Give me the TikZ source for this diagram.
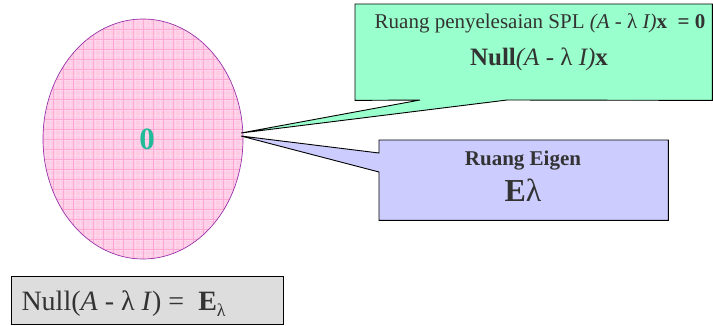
\documentclass[tikz,border=0pt]{standalone}
\usepackage{fontspec}
\setmainfont{Liberation Serif}
\usetikzlibrary{calc,shapes.geometric}
\definecolor{gfill}{HTML}{99FFCC}
\definecolor{bfill}{HTML}{CCCCFF}
\definecolor{pfill}{HTML}{FFCCE6}
\definecolor{pgrid}{HTML}{FF99CC}
\definecolor{pedge}{HTML}{9933AA}
\definecolor{zero}{HTML}{22BB99}
\definecolor{txt}{HTML}{333333}
\definecolor{gfillb}{HTML}{DDDDDD}
\tikzset{
  boxshape/.style={draw=none,fill=none,inner sep=0pt,minimum width=#1},
  callout/.style={draw=black,line width=0.9pt,line join=miter},
}
\begin{document}
\begin{tikzpicture}[x=1pt,y=-1pt]
\useasboundingbox (0,0) rectangle (713,325);
% ellipse
\begin{scope}
\clip (143,139) ellipse [x radius=100, y radius=120];
\fill[pfill] (40,15) rectangle (250,265);
\foreach \i in {0,...,42} {
  \draw[pgrid!40,line width=0.3pt] (40+5*\i,15) -- (40+5*\i,265);
}
\foreach \j in {0,...,50} {
  \draw[pgrid!40,line width=0.3pt] (40,15+5*\j) -- (250,15+5*\j);
}
\foreach \i in {0,...,21} {
  \draw[pgrid!85,line width=0.5pt] (43+10*\i,15) -- (43+10*\i,265);
}
\foreach \j in {0,...,25} {
  \draw[pgrid!85,line width=0.5pt] (40,19+10*\j) -- (250,19+10*\j);
}
\end{scope}
\node[draw=pedge,line width=0.7pt,ellipse,minimum width=200pt,minimum height=240pt,inner sep=0pt] (ell) at (143,139) {};
\node[text=zero,font=\bfseries\fontsize{31}{34}\selectfont] (zero) at (147,139) {0};
% green callout
\coordinate (gtip) at (241,133);
\node[boxshape=357pt,minimum height=96pt,anchor=north west] (gbox) at (355,4) {};
\fill[gfill] (gbox.north west) -- (gbox.north east) -- (gbox.south east) -- (507,100) -- (gtip) -- (420,100) -- (gbox.south west) -- cycle;
\draw[callout] (gbox.north west) -- (gbox.north east) -- (gbox.south east) -- (507,100) -- (gtip) -- (420,100) -- (gbox.south west) -- cycle;
\node[text=txt,font=\fontsize{21}{24}\selectfont,anchor=base] (gl1) at (540,28) {Ruang penyelesaian SPL \textit{(A - }λ\textit{ I)}\textbf{x}\ \ \textbf{= 0}};
\node[text=txt,font=\fontsize{25}{28}\selectfont,anchor=base] (gl2) at (539,65) {\textbf{Null}\textit{(A }- λ\textit{ I)}\textbf{x}};
% blue callout
\coordinate (btip) at (241,136);
\node[boxshape=289pt,minimum height=80pt,anchor=north west] (bbox) at (379,140) {};
\fill[bfill] (bbox.north west) -- (bbox.north east) -- (bbox.south east) -- (bbox.south west) -- (379,172) -- (btip) -- (379,153) -- cycle;
\draw[callout] (bbox.north west) -- (bbox.north east) -- (bbox.south east) -- (bbox.south west) -- (379,172) -- (btip) -- (379,153) -- cycle;
\node[text=txt,font=\bfseries\fontsize{21}{24}\selectfont,anchor=base] (bl1) at (523,165) {Ruang Eigen};
\node[text=txt,font=\fontsize{32}{36}\selectfont,anchor=base] (bl2) at (523,201) {\textbf{E}λ};
% bottom box
\node[draw=black,line width=0.9pt,fill=gfillb,minimum width=272pt,minimum height=48pt,anchor=north west,inner sep=0pt] (nbox) at (11,276) {};
\node[text=txt,font=\fontsize{28}{32}\selectfont,anchor=base west] (nl) at (18,310) {Null(\textit{A} - λ \textit{I}) =\ \ \textbf{E}\raisebox{-0.22em}{\fontsize{18}{20}\selectfont λ}};
\end{tikzpicture}
\end{document}
